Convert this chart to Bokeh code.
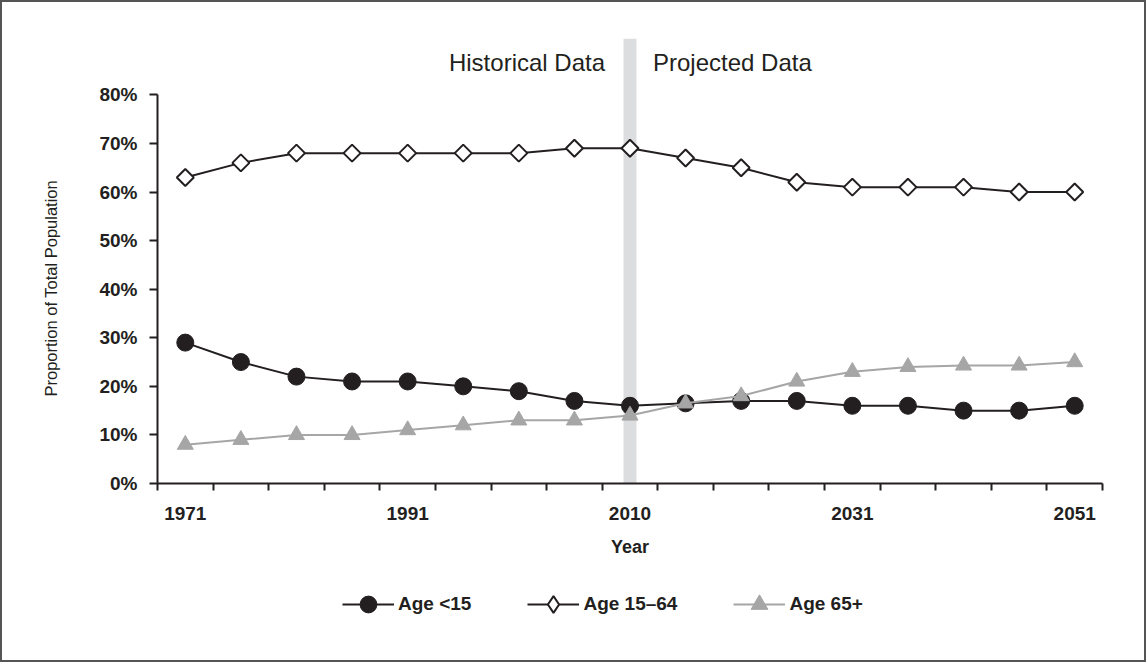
import math
from bokeh.plotting import figure
from bokeh.layouts import column
from bokeh.models import FixedTicker, Legend, LegendItem, Title
from bokeh.core.properties import value
from bokeh.embed import file_html
from bokeh.resources import INLINE

# ---- data ----
years = [1971, 1976, 1981, 1986, 1991, 1996, 2001, 2006, 2011,
         2016, 2021, 2026, 2031, 2036, 2041, 2046, 2051]
age_under15 = [29, 25, 22, 21, 21, 20, 19, 17, 16, 16.5, 17, 17, 16, 16, 15, 15, 16]
age_15_64 = [63, 66, 68, 68, 68, 68, 68, 69, 69, 67, 65, 62, 61, 61, 61, 60, 60]
age_65plus = [8, 9, 10, 10, 11, 12, 13, 13, 14, 16.5, 18, 21, 23, 24, 24.3, 24.3, 25]
tick_years = [1971, 1991, 2011, 2031, 2051]
tick_labels = ["1971", "1991", "2010", "2031", "2051"]
y_ticks = [0, 10, 20, 30, 40, 50, 60, 70, 80]
divider_year = 2011
series_names = ["Age <15", "Age 15\u201364", "Age 65+"]
left_note = "Historical Data"
right_note = "Projected Data"
y_title = "Proportion of Total Population"

FONT = "Liberation Sans"
DARK = "#231f20"
GREY = "#a6a6a6"

step = 5
x0 = years[0] - step / 2
x1 = years[-1] + step / 2

p = figure(frame_width=945, frame_height=445, output_backend="svg", toolbar_location=None,
           x_range=(x0, x1), y_range=(0, 91.6),
           min_border_left=155, min_border_right=42, min_border_top=36,
           min_border_bottom=94)
p.outline_line_color = None
p.xgrid.visible = False
p.ygrid.visible = False
p.background_fill_color = "white"
p.border_fill_color = "white"

# divider band
p.vbar(x=[divider_year], top=[91.6], bottom=[0], width=1.17,
       fill_color="#dcdddf", line_color=None)

series_values = [age_under15, age_15_64, age_65plus]
line_styles = [dict(line_color=DARK, line_width=2),
               dict(line_color=DARK, line_width=2),
               dict(line_color=GREY, line_width=2)]
marker_styles = [dict(marker="circle", size=17, fill_color=DARK, line_color=DARK),
                 dict(marker="square", size=12, angle=math.pi / 4,
                      fill_color="white", line_color=DARK, line_width=2),
                 dict(marker="triangle", size=16, fill_color=GREY, line_color=GREY)]
legend_marker_styles = [dict(marker="circle", fill_color=DARK, line_color=DARK),
                        dict(marker="diamond", fill_color="white", line_color=DARK,
                             line_width=2),
                        dict(marker="triangle", fill_color=GREY, line_color=GREY)]

for vals, ls, ms in zip(series_values, line_styles, marker_styles):
    p.line(years, vals, **ls)
    p.scatter(years, vals, **ms)

# notes
p.text(x=[divider_year], y=[86.6], text=[left_note], x_offset=-25,
       text_align="right", text_baseline="middle", text_color=DARK,
       text_font=value(FONT), text_font_size="24px")
p.text(x=[divider_year], y=[86.6], text=[right_note], x_offset=23,
       text_align="left", text_baseline="middle", text_color=DARK,
       text_font=value(FONT), text_font_size="24px")

# x axis
xa = p.xaxis[0]
xa.ticker = FixedTicker(ticks=tick_years,
                        minor_ticks=[x0 + step * i for i in range(len(years) + 1)])
xa.major_label_overrides = {y: l for y, l in zip(tick_years, tick_labels)}
xa.bounds = (x0, x1)
xa.major_tick_out = 0
xa.major_tick_in = 0
xa.minor_tick_out = 7
xa.minor_tick_in = 0
xa.minor_tick_line_color = DARK
xa.minor_tick_line_width = 2
xa.axis_line_color = DARK
xa.axis_line_width = 2
xa.major_label_standoff = 16
xa.major_label_text_font = FONT
xa.major_label_text_font_style = "bold"
xa.major_label_text_font_size = "19px"
xa.major_label_text_color = DARK
xa.axis_label = "Year"
xa.axis_label_text_font = FONT
xa.axis_label_text_font_style = "bold"
xa.axis_label_text_font_size = "18px"
xa.axis_label_text_color = DARK
xa.axis_label_standoff = 14

# y axis
ya = p.yaxis[0]
ya.ticker = FixedTicker(ticks=y_ticks)
ya.major_label_overrides = {t: f"{t}%" for t in y_ticks}
ya.bounds = (0, 80)
ya.minor_tick_out = 0
ya.minor_tick_in = 0
ya.major_tick_out = 8
ya.major_tick_in = 0
ya.major_tick_line_color = DARK
ya.major_tick_line_width = 2
ya.axis_line_color = DARK
ya.axis_line_width = 2
ya.major_label_standoff = 12
ya.major_label_text_font = FONT
ya.major_label_text_font_style = "bold"
ya.major_label_text_font_size = "19px"
ya.major_label_text_color = DARK

p.add_layout(Title(text=y_title, align="left", offset=87, standoff=73,
                   text_font=FONT, text_font_size="16.5px",
                   text_font_style="normal", text_color=DARK), "left")

# legend strip (series drawn out of view; only the legend shows)
lf = figure(width=1142, height=83, output_backend="svg", toolbar_location=None,
            min_border=0, x_range=(0, 1), y_range=(0, 1))
lf.axis.visible = False
lf.xgrid.visible = False
lf.ygrid.visible = False
lf.outline_line_color = None
items = []
for name, vals, ls, ms in zip(series_names, series_values, line_styles, legend_marker_styles):
    rl = lf.line(x=years, y=vals, **ls)
    rs = lf.scatter(x=years, y=vals, **ms)
    items.append(LegendItem(label=name, renderers=[rl, rs]))
legend = Legend(items=items, orientation="horizontal", location=(185, 35),
                glyph_width=52, glyph_height=42, label_standoff=4, spacing=56,
                padding=0, margin=0,
                label_text_font=FONT, label_text_font_size="19px",
                label_text_font_style="bold", label_text_color=DARK,
                border_line_color=None, background_fill_alpha=0)
lf.add_layout(legend, "center")

layout = column(p, lf, spacing=0)
layout.styles = {"border": "2px solid #555555"}

open("out.html", "w").write(file_html(layout, INLINE))
